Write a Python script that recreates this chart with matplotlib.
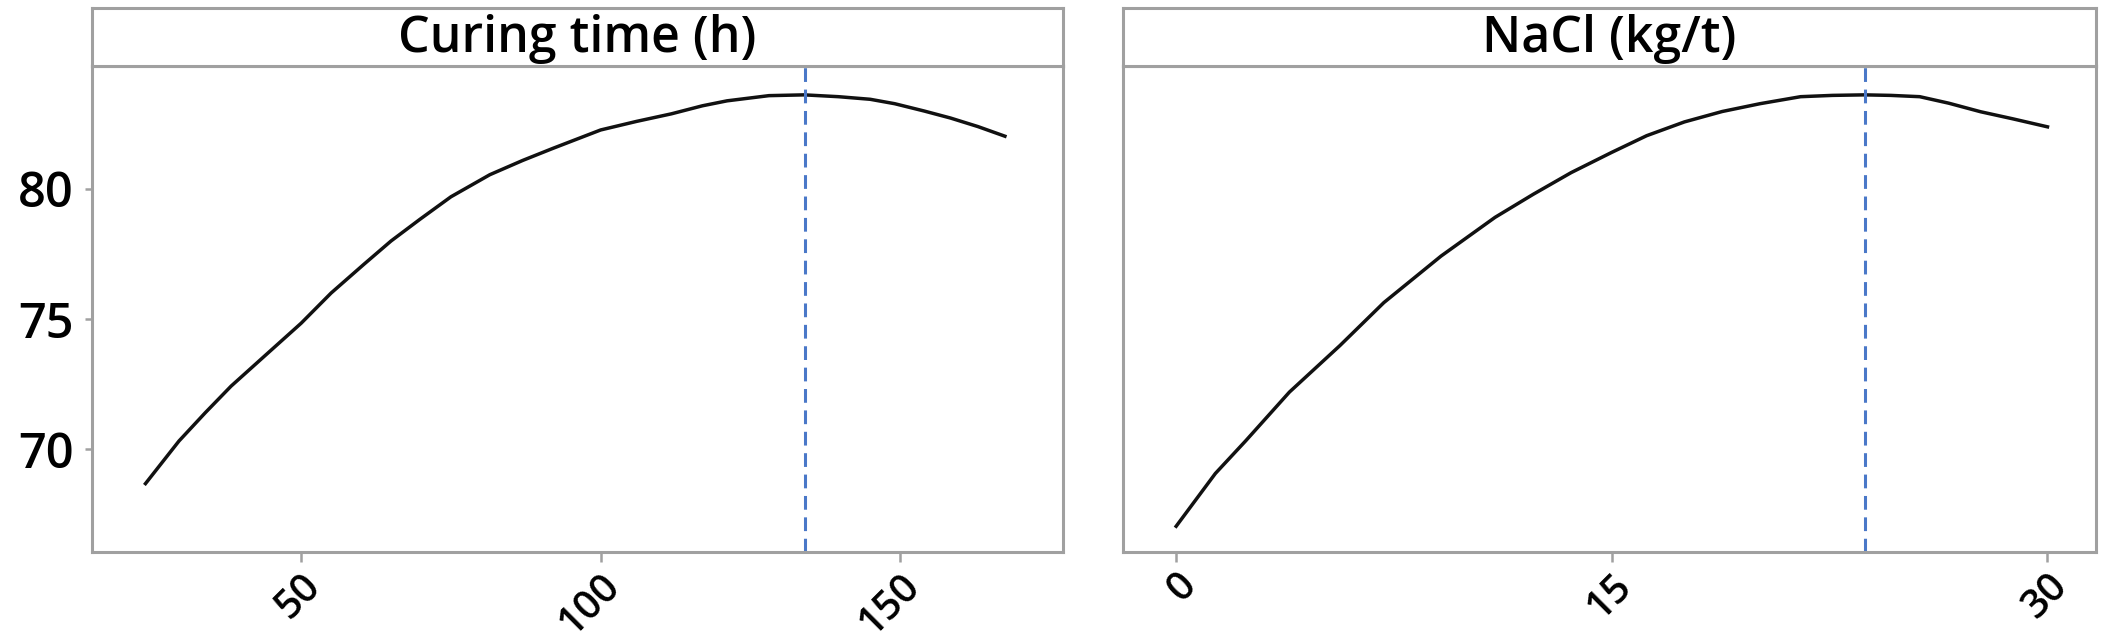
import numpy as np
import matplotlib.pyplot as plt

cure_x = [24, 29.6, 34, 38.3, 44, 50, 55, 60.5, 65, 69.8, 75, 81.5, 87, 92, 100, 106,
          111.8, 117, 121.1, 128.1, 134, 139.7, 145, 149.1, 154, 158.4, 163, 167.5]
cure_y = [68.67, 70.31, 71.4, 72.42, 73.6, 74.84, 76.0, 77.11, 78.0, 78.83, 79.7, 80.55,
          81.1, 81.56, 82.27, 82.6, 82.89, 83.2, 83.39, 83.59, 83.62, 83.55, 83.45, 83.28,
          83.0, 82.73, 82.4, 82.03]
nacl_x = [0, 1.35, 2.39, 3.9, 5.64, 7.15, 9.12, 10.98, 12.3, 13.6, 15, 16.2, 17.5, 18.8,
          20.1, 21.5, 22.6, 23.7, 24.6, 25.6, 26.6, 27.7, 28.8, 30]
nacl_y = [67.03, 69.06, 70.31, 72.19, 73.98, 75.63, 77.42, 78.91, 79.8, 80.63, 81.41,
          82.05, 82.58, 82.98, 83.28, 83.55, 83.6, 83.62, 83.6, 83.55, 83.3, 82.97, 82.7, 82.39]
cure_opt = 134.2
nacl_opt = 23.7

titles = ['Curing time (h)', 'NaCl (kg/t)']
cure_ticks = [50, 100, 150]
nacl_ticks = [0, 15, 30]
y_ticks = [70, 75, 80]

plt.rcParams['font.family'] = ['Open Sans', 'DejaVu Sans']
grey = '#a0a0a0'
blue = '#4a78c8'

fig = plt.figure(figsize=(21.05, 6.4), dpi=100)
W, H = 2105, 640
boxes = [(92, 1063), (1123, 2096)]
top, bot, strip_top = 66, 552, 8

panels = [(cure_x, cure_y, cure_opt, cure_ticks, (15.07, 177.2)),
          (nacl_x, nacl_y, nacl_opt, nacl_ticks, (-1.83, 31.67))]

for i, (x0, x1) in enumerate(boxes):
    xs, ys, opt, ticks, xlim = panels[i]
    ax = fig.add_axes([x0 / W, 1 - bot / H, (x1 - x0) / W, (bot - top) / H])
    ax.plot(xs, ys, color='#111111', lw=2.5, solid_joinstyle='round')
    ax.axvline(opt, color=blue, lw=2.2, ls=(0, (4.5, 2.5)))
    ax.set_xlim(*xlim)
    ax.set_ylim(66.04, 84.73)
    ax.set_xticks(ticks)
    ax.set_xticklabels([str(t) for t in ticks], rotation=45, ha='right',
                       rotation_mode='anchor', fontsize=29, fontweight='semibold')
    ax.tick_params(axis='x', length=7, width=1.8, color=grey, pad=3)
    if i == 0:
        ax.set_yticks(y_ticks)
        ax.set_yticklabels([str(t) for t in y_ticks], fontsize=35, fontweight='semibold')
        ax.tick_params(axis='y', length=5, width=1.8, color=grey, pad=8)
    else:
        ax.set_yticks([])
    for s in ax.spines.values():
        s.set_color(grey)
        s.set_linewidth(2.2)

    # strip header
    sx = fig.add_axes([x0 / W, 1 - top / H, (x1 - x0) / W, (top - strip_top) / H])
    sx.set_xticks([])
    sx.set_yticks([])
    for s in sx.spines.values():
        s.set_color(grey)
        s.set_linewidth(2.2)
    sx.text(0.5, 0.47, titles[i], ha='center', va='center', fontsize=36,
            fontweight='semibold', transform=sx.transAxes)

fig.savefig('out.png', dpi=100)
